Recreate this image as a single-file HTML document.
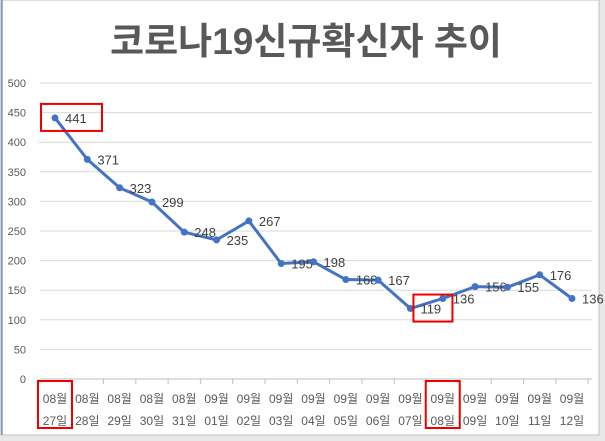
<!DOCTYPE html>
<html><head><meta charset="utf-8"><style>
body{margin:0;width:605px;height:441px;background:#fff;overflow:hidden;font-family:"Liberation Sans","Noto Sans CJK KR",sans-serif}
</style></head><body>
<svg width="605" height="441" style="position:absolute;left:0;top:0">
<rect x="0" y="0" width="605" height="441" fill="#e8e8e8"/>
<rect x="1" y="0" width="598" height="435" fill="#fff" stroke="#bfbfbf"/>
<line x1="2" y1="0" x2="2" y2="435" stroke="#4472c4" stroke-width="1"/>
<text x="306" y="54" text-anchor="middle" font-size="37" font-weight="bold" fill="#595959" font-family="'Liberation Sans','Noto Sans CJK KR',sans-serif">코로나19신규확신자 추이</text>
<g id="grid"></g><g id="marks"></g>
</svg>
<script>
const categoriesMonth=["08월","08월","08월","08월","08월","09월","09월","09월","09월","09월","09월","09월","09월","09월","09월","09월","09월"];
const categoriesDay=["27일","28일","29일","30일","31일","01일","02일","03일","04일","05일","06일","07일","08일","09일","10일","11일","12일"];
const values=[441,371,323,299,248,235,267,195,198,168,167,119,136,156,155,176,136];
const yTicks=[0,50,100,150,200,250,300,350,400,450,500];
const highlighted=[0,11];
const highlightedCats=[0,12];
const NS="http://www.w3.org/2000/svg";
const x0=55,step=(572-55)/16;
const xs=i=>x0+i*step;
const ys=v=>379-v*(296/500);
const g=document.getElementById('grid'),m=document.getElementById('marks');
function mk(t,a,p){const e=document.createElementNS(NS,t);for(const k in a)e.setAttribute(k,a[k]);p.appendChild(e);return e;}
yTicks.forEach(v=>{
 const l=mk('line',{x1:40,x2:592,y1:ys(v),y2:ys(v),stroke:v===0?'#bfbfbf':'#d9d9d9'},g);
 
 
 const t=mk('text',{x:26,y:ys(v)+4,'text-anchor':'end','font-size':11,fill:'#595959'},g);t.textContent=v;
 
 
});
for(let i=0;i<=values.length;i++){mk('line',{x1:xs(i)-step/2,x2:xs(i)-step/2,y1:379,y2:384,stroke:'#bfbfbf'},g);}
categoriesMonth.forEach((c,i)=>{
 const t=mk('text',{x:xs(i),y:403,'text-anchor':'middle','font-size':12,fill:'#595959'},g);t.textContent=c;
 
 
 const d=mk('text',{x:xs(i),y:425,'text-anchor':'middle','font-size':12,fill:'#595959'},g);d.textContent=categoriesDay[i];
 
 
});
const line=mk('polyline',{points:values.map((v,i)=>xs(i)+','+ys(v)).join(' '),fill:'none',stroke:'#4472c4','stroke-width':3,'stroke-linejoin':'round'},m);


values.forEach((v,i)=>{
 const c=mk('circle',{cx:xs(i),cy:ys(v),r:3.5,fill:'#4472c4'},m);
 
 
 const t=mk('text',{x:xs(i)+10,y:ys(v)+5,'font-size':13,fill:'#404040'},m);t.textContent=v;
 
 
});
highlighted.forEach(i=>{
 const r=mk('rect',{x:xs(i)-14,y:ys(values[i])-14,width:i===0?61:39,height:27,fill:'none',stroke:'#e00',"stroke-width":2},m);
 if(i!==0){r.setAttribute('x',xs(i)+3);}
 
 
});
highlightedCats.forEach(i=>{
 const r=mk('rect',{x:xs(i)-17,y:381,width:34,height:47,fill:'none',stroke:'#e00',"stroke-width":2},m);
 
 
});
</script>
</body></html>
